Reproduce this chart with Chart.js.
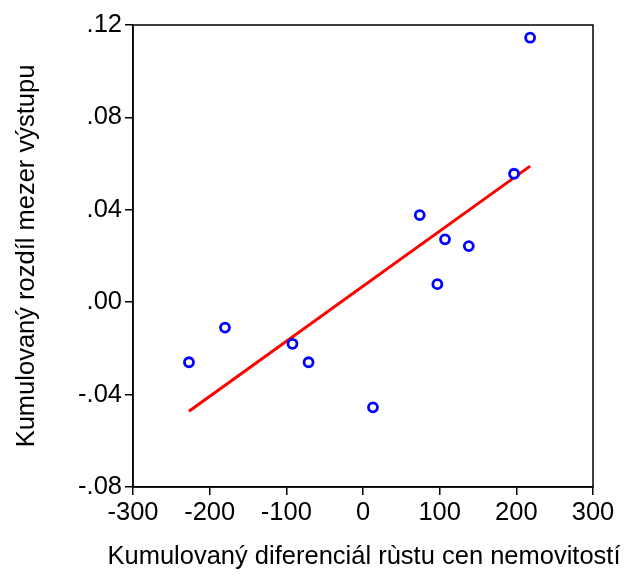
<!DOCTYPE html>
<html>
<head>
<meta charset="utf-8">
<script src="https://cdn.jsdelivr.net/npm/chart.js@4/dist/chart.umd.min.js"></script>
<style>
  html, body { margin: 0; padding: 0; background: #fff; }
  #wrap { width: 625px; height: 575px; }
</style>
</head>
<body>
<div id="wrap"><canvas id="graf" width="625" height="575"></canvas></div>
<script>
// kumulovaný diferenciál růstu cen nemovitostí vs. kumulovaný rozdíl mezer výstupu
const diferencial = [-227, -180, -92, -71, 13, 74, 97, 107, 138, 197, 218];
const rozdilMezer = [-0.026, -0.011, -0.018, -0.026, -0.0455, 0.0377, 0.0078, 0.0272, 0.0243, 0.0556, 0.1145];

// konce regresní přímky
const primkaX = [-227, 218];
const primkaY = [-0.0472, 0.0589];

const xTicks = [-300, -200, -100, 0, 100, 200, 300];
const yTicks = [-0.08, -0.04, 0, 0.04, 0.08, 0.12];
const yTickLabels = ['-.08', '-.04', '.00', '.04', '.08', '.12'];

const xTitulek = 'Kumulovaný diferenciál rùstu cen nemovitostí';
const yTitulek = 'Kumulovaný rozdíl mezer výstupu';

const font = { family: '"Liberation Sans", Arial, sans-serif', size: 25.5 };

// rámeček kolem plochy grafu + popisek osy x (širší než plocha grafu)
const ramecek = {
    id: 'ramecek',
    afterDraw(chart) {
        const a = chart.chartArea;
        const c = chart.ctx;
        c.save();
        c.strokeStyle = '#000';
        c.lineWidth = 1.5;
        c.strokeRect(a.left, a.top, a.right - a.left, a.bottom - a.top);
        c.fillStyle = '#000';
        c.font = font.size + 'px ' + font.family;
        c.textAlign = 'center';
        c.textBaseline = 'middle';
        c.fillText(xTitulek, (a.left + a.right) / 2 + 1, chart.height - 18);
        c.restore();
    }
};

const ctx = document.getElementById('graf').getContext('2d');
const graf = new Chart(ctx, {
    type: 'scatter',
    data: {
        datasets: [
            {
                data: diferencial.map((x, i) => ({ x: x, y: rozdilMezer[i] })),
                pointStyle: 'circle',
                pointRadius: 4.5,
                pointBorderWidth: 2.8,
                borderColor: '#0000ff',
                backgroundColor: '#ffffff',
                order: 1
            },
            {
                type: 'line',
                data: primkaX.map((x, i) => ({ x: x, y: primkaY[i] })),
                borderColor: '#ff0000',
                borderWidth: 3,
                pointRadius: 0,
                fill: false,
                order: 2
            }
        ]
    },
    options: {
        responsive: false,
        animation: false,
        layout: { padding: { left: 0, top: 25, right: 32, bottom: 0 } },
        plugins: {
            legend: { display: false },
            tooltip: { enabled: false }
        },
        scales: {
            x: {
                type: 'linear',
                min: -300,
                max: 300,
                afterBuildTicks: s => { s.ticks = xTicks.map(v => ({ value: v })); },
                afterFit: s => { s.height = 88; },
                ticks: {
                    color: '#000',
                    font: font,
                    padding: 3,
                    maxRotation: 0,
                    callback: v => String(v)
                },
                grid: {
                    display: true,
                    drawOnChartArea: false,
                    drawTicks: true,
                    tickLength: 8,
                    color: '#000',
                    lineWidth: 1.5
                },
                border: { display: true, color: '#000', width: 1.5 },
                title: { display: false }
            },
            y: {
                type: 'linear',
                min: -0.08,
                max: 0.12,
                afterBuildTicks: s => { s.ticks = yTicks.map(v => ({ value: v })); },
                afterFit: s => { s.width = 133; },
                ticks: {
                    color: '#000',
                    font: font,
                    padding: 3,
                    callback: v => {
                        const i = yTicks.findIndex(t => Math.abs(t - v) < 1e-9);
                        return i >= 0 ? yTickLabels[i] : '';
                    }
                },
                grid: {
                    display: true,
                    drawOnChartArea: false,
                    drawTicks: true,
                    tickLength: 8,
                    color: '#000',
                    lineWidth: 1.5
                },
                border: { display: true, color: '#000', width: 1.5 },
                title: {
                    display: true,
                    text: yTitulek,
                    color: '#000',
                    font: font,
                    padding: { top: 12, bottom: 0 }
                }
            }
        }
    },
    plugins: [ramecek]
});
</script>
</body>
</html>
